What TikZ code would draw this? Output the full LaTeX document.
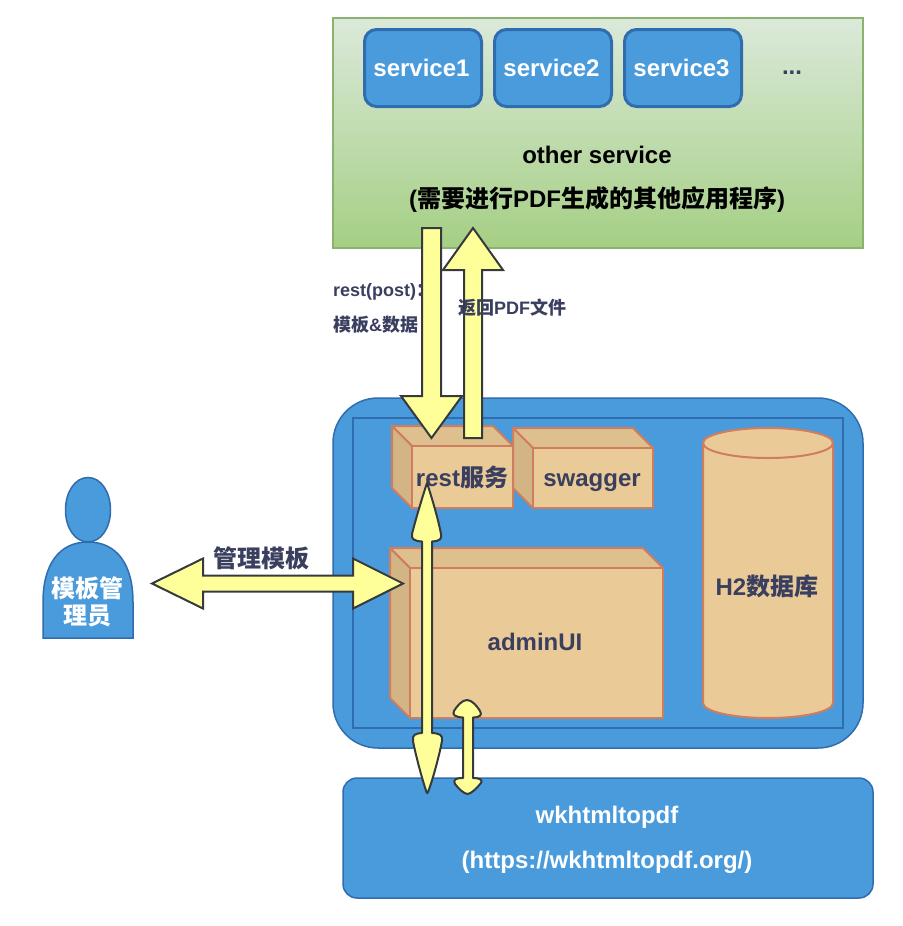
\documentclass[tikz,border=0pt]{standalone}
\usepackage{fontspec}
\setmainfont{Liberation Sans}
\newfontfamily\cjkfam{Noto Sans CJK SC}
\newcommand{\zh}[1]{{\cjkfam\bfseries #1}}
\newcommand{\fsz}[1]{\fontsize{#1}{#1}\selectfont\bfseries}
\definecolor{blueF}{HTML}{4A9BDC}
\definecolor{blueS}{HTML}{2F6DAE}
\definecolor{boxF}{HTML}{EACB97}
\definecolor{boxT}{HTML}{DEBF8E}
\definecolor{boxL}{HTML}{D3B585}
\definecolor{boxS}{HTML}{D07C5E}
\definecolor{inkD}{HTML}{3A3F5F}
\definecolor{arrF}{HTML}{FFFF99}
\definecolor{arrS}{HTML}{36393D}
\definecolor{greenT}{HTML}{DBE9DA}
\definecolor{greenB}{HTML}{A5CF84}
\definecolor{greenS}{HTML}{8BB36F}
\tikzset{
  plate/.style={draw=blueS,line width=1.5pt,fill=blueF,inner sep=0pt},
  svc/.style={draw=blueS,line width=3pt,fill=blueF,rounded corners=12pt,minimum width=117pt,minimum height=77pt,inner sep=0pt,text=white,font=\fsz{24}},
  darklabel/.style={text=inkD,inner sep=0pt,font=\fsz{24}},
  smalllabel/.style={text=inkD,inner sep=0pt,font=\fsz{18},anchor=west},
  whitelabel/.style={text=white,inner sep=0pt,font=\fsz{24}},
  blacklabel/.style={text=black,inner sep=0pt,font=\fsz{24}},
  blockarrow/.style={draw=arrS,line width=2pt,fill=arrF,line join=miter},
  softarrow/.style={draw=arrS,line width=2pt,fill=arrF,line join=round},
  cubeline/.style={draw=boxS,line width=2pt,line join=round},
}
\newcommand{\cube}[7]{% left, top, frontx, fronty, right, bottom, backright
  \path[fill=boxT,cubeline] (#1,#2) -- (#7,#2) -- (#5,#4) -- (#3,#4) -- cycle;
  \path[fill=boxL,cubeline] (#1,#2) -- (#3,#4) -- (#3,#6) -- (#1,#6-#4+#2) -- cycle;
  \path[fill=boxF,cubeline] (#3,#4) rectangle (#5,#6);
}
\begin{document}
\begin{tikzpicture}[x=1pt,y=-1pt]
\useasboundingbox (0,0) rectangle (902,926);
% other service panel
\node[draw=greenS,line width=1.5pt,top color=greenT,bottom color=greenB,minimum width=530pt,minimum height=230pt,inner sep=0pt] (other) at (598,133) {};
\node[svc] (svcA) at (423,68) {service1\kern3pt};
\node[svc] (svcB) at (553,68) {service2\kern3pt};
\node[svc] (svcC) at (683,68) {service3\kern3pt};
\node[darklabel] (more) at (792,73) {...};
\node[blacklabel] (otherT) at (597,155) {other service};
\node[blacklabel] (otherZ) at (597,200) {(\zh{需要进行}PDF\zh{生成的其他应用程序})};
% main container
\node[plate,rounded corners=45pt,minimum width=530pt,minimum height=350pt] (app) at (598,573) {};
\node[plate,minimum width=490pt,minimum height=310pt] (inner) at (598,573) {};
% wkhtmltopdf
\node[plate,rounded corners=14pt,minimum width=530pt,minimum height=120pt] (wk) at (608,838) {};
\node[whitelabel] (wkA) at (607,817) {wkhtmltopdf};
\node[whitelabel] (wkB) at (607,862) {(https://wkhtmltopdf.org/)};
% boxes
\cube{392}{426}{412}{446}{513}{508}{493}
\cube{513}{428}{533}{448}{653}{508}{633}
\cube{390}{548}{410}{568}{663}{718}{643}
\node[darklabel] (rest) at (462,477) {rest\zh{服务}};
\node[darklabel] (swag) at (592,483) {swagger};
\node[darklabel] (admin) at (535,642) {adminUI};
% database
\path[fill=boxF,cubeline] (703,443) -- (703,703) arc[start angle=180,end angle=0,x radius=65,y radius=15] -- (833,443) arc[start angle=360,end angle=180,x radius=65,y radius=15] -- cycle;
\draw[cubeline] (703,443) arc[start angle=180,end angle=0,x radius=65,y radius=15];
\node[darklabel] (db) at (767,586) {H2\zh{数据库}};
% person
\path[plate] (88,542) .. controls (58,542) and (43,566) .. (43,602) -- (43,638) -- (133,638) -- (133,602) .. controls (133,566) and (118,542) .. (88,542) -- cycle;
\path[plate] (88,477.5) .. controls (75,477.5) and (65.5,492) .. (65.5,510) .. controls (65.5,528) and (75,542) .. (88,542) .. controls (101,542) and (110.5,528) .. (110.5,510) .. controls (110.5,492) and (101,477.5) .. (88,477.5) -- cycle;
\node[whitelabel] (pA) at (87,588) {\zh{模板管}};
\node[whitelabel] (pB) at (87,616) {\zh{理员}};
% block arrows: named end points
\coordinate (downS) at (431.5,228);
\coordinate (downE) at (431.5,438);
\coordinate (upS) at (473,438);
\coordinate (upE) at (473,228);
\coordinate (hL) at (152,583.5);
\coordinate (hR) at (403,583.5);
\draw[blockarrow] (downS) ++(-9.5,0) -- ++(19,0) -- ++(0,168) -- ++(21,0) -- (downE) -- ++(-30.5,-42) -- ++(21,0) -- cycle;
\draw[blockarrow] (upS) ++(-9,0) -- ++(0,-168) -- ++(-21,0) -- (upE) -- ++(30,42) -- ++(-21,0) -- ++(0,168) -- cycle;
\draw[blockarrow] (hL) -- ++(51,-25) -- ++(0,17) -- ++(150,0) -- ++(0,-17) -- (hR) -- ++(-50,25) -- ++(0,-17) -- ++(-150,0) -- ++(0,17) -- cycle;
% rounded double arrows
\coordinate (longT) at (427,483);
\coordinate (longB) at (427.5,793);
\coordinate (shortT) at (467,700);
\coordinate (shortB) at (467.5,794);
\draw[softarrow] (longT) .. controls (431,495) and (438,518) .. (441,534) .. controls (442,539) and (440,541) .. (432,541.5)
  -- (432,733) .. controls (440,733.5) and (443,735) .. (442,741) .. controls (439,757) and (432,782) .. (428,792) .. controls (427.5,793.5) and (427,793.5) .. (426.5,792) .. controls (423,782) and (416,757) .. (413,741) .. controls (412,735) and (415,733.5) .. (422,733)
  -- (422,541.5) .. controls (414,541) and (411,539) .. (412,534) .. controls (416,518) and (423,495) .. (longT) -- cycle;
\draw[softarrow] (shortT) .. controls (472,700) and (477,706) .. (480,711) .. controls (482,715) and (481,717) .. (473,717.5)
  -- (473,778) .. controls (480,778) and (483,780) .. (481,783) .. controls (477,788) and (471,794) .. (shortB) .. controls (464,794) and (458,788) .. (455,784) .. controls (453,780) and (455,778) .. (463,778)
  -- (463,717.5) .. controls (455,717) and (452,715) .. (454,711) .. controls (457,706) and (462,700) .. (shortT) -- cycle;
% arrow labels
\node[smalllabel] (restA) at (333,292) {rest(post)\zh{：}};
\node[smalllabel] (restB) at (333,325) {\zh{模板}\&\zh{数据}};
\node[smalllabel] (back) at (458,308) {\zh{返回}PDF\zh{文件}};
\node[darklabel] (mgr) at (261,558) {\zh{管理模板}};
\end{tikzpicture}
\end{document}
